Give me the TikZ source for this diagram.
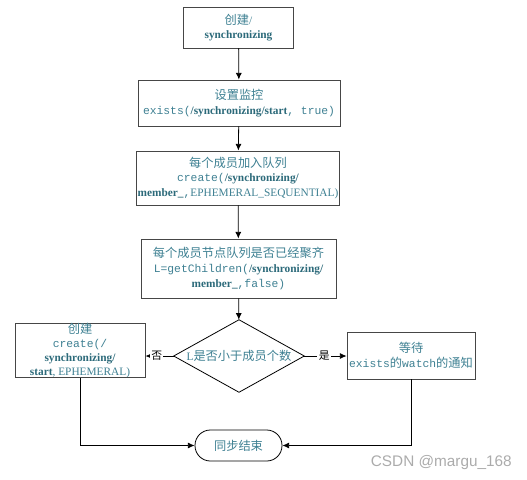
\documentclass[tikz,border=0pt]{standalone}
\usepackage{fontspec}
\setmainfont{Liberation Serif}
\setmonofont{Liberation Mono}
\newfontfamily\cjk[Scale=1.08]{Noto Sans CJK SC}
\newfontfamily\wmfont{Liberation Sans}
\usetikzlibrary{shapes.geometric,arrows.meta,positioning}
\definecolor{tongbutext}{RGB}{62,128,146}
\definecolor{tongbubold}{RGB}{44,106,122}
\definecolor{tongbuline}{RGB}{70,70,70}
\newcommand{\zh}[1]{{\cjk #1}}
\newcommand{\bd}[1]{{\bfseries\color{tongbubold}#1}}

\begin{document}
\begin{tikzpicture}[x=0.75pt,y=-0.75pt,
  font=\fontsize{8.5}{11}\selectfont,
  buoc/.style={draw=tongbuline, line width=0.65pt, text=tongbutext, align=center, inner sep=1pt},
  panduan/.style={rectangle, text=tongbutext, inner sep=0pt, minimum width=97.5pt, minimum height=54pt},
  jieshu/.style={draw=black, line width=0.6pt, rounded corners=11.5pt, text=tongbutext, minimum width=65.25pt, minimum height=23.25pt},
  jt/.style={draw=black, line width=0.6pt, -{Latex[length=5pt,width=4.5pt]}},
  biaoqian/.style={fill=white, inner sep=1pt, text=black, font=\fontsize{7.5}{9}\selectfont}]
  \useasboundingbox (0,0) rectangle (527,479);
  % steps
  \node[buoc, minimum width=82.5pt, minimum height=30.75pt] (start) at (238.5,27.5) {\zh{创建}/\\\bd{synchronizing}};
  \node[buoc, minimum width=151.5pt, minimum height=34.5pt] (jiankong) at (239,103) {\zh{设置监控}\\\texttt{exists(}\bd{/synchronizing/start}\texttt{, true)}};
  \node[buoc, minimum width=151.5pt, minimum height=40.5pt] (jiaru) at (238,178) {\zh{每个成员加入队列}\\\texttt{create(}\bd{/synchronizing/}\\\bd{member\_}\texttt{,}EPHEMERAL\_SEQUENTIAL)};
  \node[buoc, minimum width=146.25pt, minimum height=44.25pt] (jiqi) at (238.5,268.5) {\zh{每个成员节点队列是否已经聚齐}\\\texttt{L=getChildren(}\bd{/synchronizing/}\\\bd{member\_}\texttt{,false)}};
  \node[panduan] (xiaoyu) at (239,356) {L\zh{是否小于成员个数}};
  \draw[line width=0.6pt] (xiaoyu.north) -- (xiaoyu.east) -- (xiaoyu.south) -- (xiaoyu.west) -- cycle;
  \node[buoc, minimum width=97.5pt, minimum height=39.75pt, inner ysep=0pt, font=\fontsize{8.5}{10.5}\selectfont] (chuangjian) at (80,350.5) {\zh{创建}\\\texttt{create(/}\\\bd{synchronizing/}\\\bd{start}, EPHEMERAL)};
  \node[buoc, minimum width=96pt, minimum height=35.25pt] (dengdai) at (411,355.5) {\zh{等待}\\\texttt{exists}\zh{的}\texttt{watch}\zh{的通知}};
  \node[jieshu] (done) at (238.5,445.5) {\zh{同步结束}};
  % arrows
  \draw[jt] (start) -- (jiankong);
  \draw[jt] (jiankong) -- (jiaru);
  \draw[jt] (jiaru) -- (jiqi);
  \draw[jt] (jiqi) -- (xiaoyu);
  \draw[jt] (xiaoyu.west) -- (xiaoyu.west -| chuangjian.east) node[biaoqian, pos=0.6] {\zh{否}};
  \draw[jt] (xiaoyu.east) -- (xiaoyu.east -| dengdai.west) node[biaoqian, pos=0.47] {\zh{是}};
  \draw[jt] (chuangjian.south) |- (done.west);
  \draw[jt] (dengdai.south) |- (done.east);
  % watermark
  \node[anchor=east, text=black!33, font=\wmfont\fontsize{11.5}{13}\selectfont, inner sep=0pt] (csdn) at (512,463) {CSDN @margu\_168};
\end{tikzpicture}
\end{document}
